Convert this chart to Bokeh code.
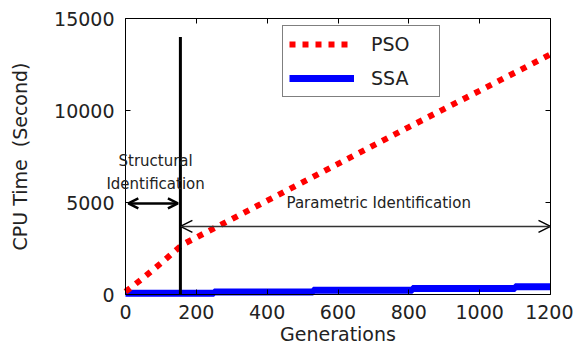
from bokeh.plotting import figure
from bokeh.models import (Range1d, LinearAxis, FixedTicker, Arrow, OpenHead,
                          Legend, LegendItem, Label, CustomJSTickFormatter)
from bokeh.embed import file_html
from bokeh.resources import INLINE

# Data
pso_x = [0, 50, 100, 160, 400, 800, 1200]
pso_y = [150, 900, 1700, 2700, 5100, 9100, 13050]
ssa_x = [0, 250, 250, 530, 530, 810, 810, 1100, 1100, 1200]
ssa_y = [70, 70, 130, 130, 230, 230, 330, 330, 420, 420]
split_gen = 155
x_ticks = [0, 200, 400, 600, 800, 1000, 1200]
y_ticks = [0, 5000, 10000, 15000]
X0, X1 = 0, 1200
Y0, Y1 = 0, 15000

# Page geometry (pixels): where the axes box sits in the canvas
W, H = 573, 351
BOX_L, BOX_R, BOX_T, BOX_B = 125, 550, 18, 294
sx = (BOX_R - BOX_L) / (X1 - X0)
sy = (BOX_B - BOX_T) / (Y1 - Y0)
xr = Range1d(X0 - BOX_L / sx, X1 + (W - BOX_R) / sx)
yr = Range1d(Y0 - (H - BOX_B) / sy, Y1 + BOX_T / sy)

FONT = "DejaVu Sans"
TXT = "#222222"

p = figure(width=W, height=H, output_backend="svg", toolbar_location=None,
           x_range=xr, y_range=yr, x_axis_location=None, y_axis_location=None,
           min_border=0)
p.xgrid.visible = False
p.ygrid.visible = False
p.outline_line_color = None
p.background_fill_color = "white"
p.border_fill_color = "white"

blank = CustomJSTickFormatter(code="return ''")


def style(ax):
    ax.major_tick_in = 5
    ax.major_tick_out = 0
    ax.minor_tick_line_color = None
    ax.axis_line_color = "black"
    ax.major_tick_line_color = "black"
    ax.major_label_text_font = FONT
    ax.major_label_text_font_size = "19px"
    ax.major_label_text_color = TXT
    ax.axis_label_text_font = FONT
    ax.axis_label_text_font_size = "19px"
    ax.axis_label_text_font_style = "normal"
    ax.axis_label_text_color = TXT


xb = LinearAxis(ticker=FixedTicker(ticks=x_ticks), fixed_location=Y0, bounds=(X0, X1),
                axis_label="Generations", major_label_standoff=10, axis_label_standoff=1)
yl = LinearAxis(ticker=FixedTicker(ticks=y_ticks), fixed_location=X0, bounds=(Y0, Y1),
                axis_label="CPU Time\u00a0\u00a0(Second)", major_label_standoff=11,
                axis_label_standoff=20)
xt = LinearAxis(ticker=FixedTicker(ticks=x_ticks), fixed_location=Y1, bounds=(X0, X1),
                formatter=blank)
yrt = LinearAxis(ticker=FixedTicker(ticks=y_ticks), fixed_location=X1, bounds=(Y0, Y1),
                 formatter=blank)
for a in (xb, yl, xt, yrt):
    style(a)
p.add_layout(xb, "below")
p.add_layout(yl, "left")
p.add_layout(xt, "above")
p.add_layout(yrt, "right")

r_ssa = p.line(ssa_x, ssa_y, line_color="#0000ff", line_width=7)
r_pso = p.line(pso_x, pso_y, line_color="#ff0000", line_width=6, line_dash="6 7")

p.segment(x0=[split_gen], y0=[0], x1=[split_gen], y1=[14000], line_color="black", line_width=3)

p.add_layout(Arrow(start=OpenHead(size=10, line_width=2.5), end=OpenHead(size=10, line_width=2.5),
                   x_start=8, y_start=4950, x_end=148, y_end=4950,
                   line_width=2.5, line_color="black"))
p.add_layout(Arrow(start=OpenHead(size=12, line_width=1.5), end=OpenHead(size=12, line_width=1.5),
                   x_start=split_gen, y_start=3700, x_end=1200, y_end=3700,
                   line_width=1.5, line_color="#333333"))

for txt, yy in [("Structural", 7250), ("Identification", 5980)]:
    p.add_layout(Label(x=85, y=yy, text=txt, text_font=FONT, text_font_size="15px",
                       text_align="center", text_baseline="middle", text_color=TXT))
p.add_layout(Label(x=715, y=4960, text="Parametric Identification", text_font=FONT,
                   text_font_size="15px", text_align="center", text_baseline="middle",
                   text_color=TXT))

legend = Legend(items=[LegendItem(label="PSO", renderers=[r_pso]),
                       LegendItem(label="SSA", renderers=[r_ssa])],
                location=(282, H - 97), glyph_width=65, glyph_height=24,
                label_width=62, label_height=24,
                label_text_font=FONT, label_text_font_size="19px", label_standoff=17,
                padding=6, spacing=10, margin=0, border_line_color="black",
                border_line_width=1, label_text_color=TXT)
p.add_layout(legend, "center")

open("out.html", "w").write(file_html(p, INLINE))
